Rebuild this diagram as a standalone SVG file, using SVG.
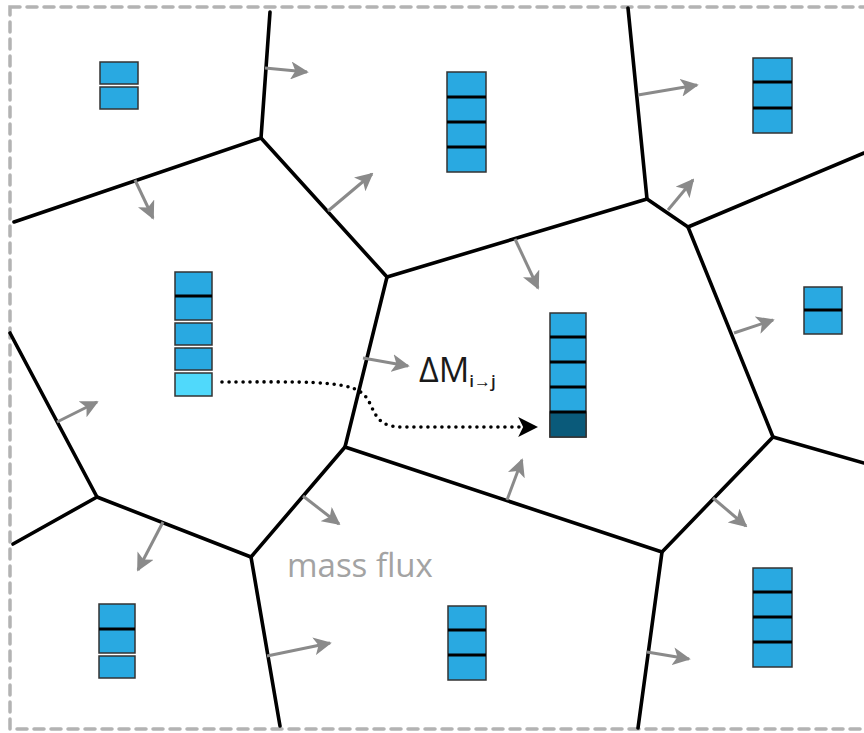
<svg xmlns="http://www.w3.org/2000/svg" width="864" height="733" viewBox="0 0 864 733">
<defs>
<style>
.edge{fill:none;stroke:#000;stroke-width:3.6;stroke-linecap:round;stroke-linejoin:round}
.flux{fill:none;stroke:#8a8a8a;stroke-width:3;marker-end:url(#ga)}
.cell{fill:#29a9e1;stroke:#333;stroke-width:1.5}
.sep{stroke:#000;stroke-width:3}
.lab{font-family:"Open Sans","Noto Sans",sans-serif}
</style>
<marker id="ga" viewBox="0 0 10 10" refX="9" refY="5" markerWidth="6" markerHeight="6" orient="auto" markerUnits="strokeWidth">
<path d="M0,0 L10,5 L0,10 L2.5,5 Z" fill="#8a8a8a"/>
</marker>
<marker id="ba" viewBox="0 0 10 10" refX="9" refY="5" markerWidth="5.5" markerHeight="5.5" orient="auto" markerUnits="strokeWidth">
<path d="M0,0 L10,5 L0,10 L2.5,5 Z" fill="#000"/>
</marker>
</defs>
<rect x="0" y="0" width="864" height="733" fill="#fff"/>
<rect x="10" y="7" width="880" height="722" fill="none" stroke="#b3b3b3" stroke-width="3.5" stroke-dasharray="10 7" stroke-linecap="round"/>

<g id="cell-edges" class="edge">
<polyline points="270,12 261,138 14,222"/>
<line x1="261" y1="138" x2="387" y2="277"/>
<polyline points="387,277 647,199 628,8"/>
<polyline points="647,199 688,227 864,153"/>
<polyline points="688,227 773,437 864,463"/>
<polyline points="773,437 662,552 638,728"/>
<polyline points="662,552 345,447 387,277"/>
<polyline points="345,447 251,557 280,726"/>
<polyline points="251,557 97,497 10,333"/>
<line x1="97" y1="497" x2="13" y2="544"/>
</g>

<g id="connectors">
<line class="flux" x1="265" y1="68" x2="307" y2="72"/>
<line class="flux" x1="135" y1="180" x2="153" y2="218"/>
<line class="flux" x1="328" y1="211" x2="372" y2="174"/>
<line class="flux" x1="638" y1="95" x2="697" y2="85"/>
<line class="flux" x1="668" y1="210" x2="693" y2="180"/>
<line class="flux" x1="515" y1="239" x2="538" y2="288"/>
<line class="flux" x1="734" y1="333" x2="773" y2="320"/>
<line class="flux" x1="57" y1="422" x2="97" y2="402"/>
<line class="flux" x1="363" y1="358" x2="408" y2="366"/>
<line class="flux" x1="507" y1="500" x2="522" y2="460"/>
<line class="flux" x1="713" y1="498" x2="746" y2="526"/>
<line class="flux" x1="163" y1="522" x2="138" y2="570"/>
<line class="flux" x1="303" y1="496" x2="339" y2="524"/>
<line class="flux" x1="267" y1="656" x2="330" y2="643"/>
<line class="flux" x1="647" y1="652" x2="689" y2="659"/>
<path d="M222,382 C300,382 345,380 362,393 C376,404 370,427 402,427 L536,427" fill="none" stroke="#000" stroke-width="3.6" stroke-dasharray="0 7" stroke-linecap="round" marker-end="url(#ba)"/>
</g>

<g id="stack-tl">
<rect class="cell" x="100" y="62" width="38" height="22"/>
<rect class="cell" x="100" y="87" width="38" height="22"/>
</g>
<g id="stack-tm">
<rect class="cell" x="447" y="72" width="39" height="100"/>
<line class="sep" x1="447" y1="97" x2="486" y2="97"/>
<line class="sep" x1="447" y1="122" x2="486" y2="122"/>
<line class="sep" x1="447" y1="147" x2="486" y2="147"/>
</g>
<g id="stack-tr">
<rect class="cell" x="753" y="58" width="39" height="75"/>
<line class="sep" x1="753" y1="82" x2="792" y2="82"/>
<line class="sep" x1="753" y1="108" x2="792" y2="108"/>
</g>
<g id="stack-left">
<rect class="cell" x="175" y="272" width="37" height="48"/>
<line class="sep" x1="175" y1="296" x2="212" y2="296"/>
<rect class="cell" x="175" y="323" width="37" height="22"/>
<rect class="cell" x="175" y="348" width="37" height="22"/>
<rect class="cell" x="175" y="373" width="37" height="23" style="fill:#50d9fb"/>
</g>
<g id="stack-center">
<rect class="cell" x="550" y="313" width="36" height="124"/>
<rect x="550" y="412" width="36" height="25" fill="#0a5a7a" stroke="#333" stroke-width="1.5"/>
<line class="sep" x1="550" y1="337" x2="586" y2="337"/>
<line class="sep" x1="550" y1="362" x2="586" y2="362"/>
<line class="sep" x1="550" y1="387" x2="586" y2="387"/>
<line class="sep" x1="550" y1="412" x2="586" y2="412"/>
</g>
<g id="stack-rm">
<rect class="cell" x="804" y="287" width="38" height="47"/>
<line class="sep" x1="804" y1="310" x2="842" y2="310"/>
</g>
<g id="stack-bl">
<rect class="cell" x="99" y="604" width="36" height="49"/>
<line class="sep" x1="99" y1="629" x2="135" y2="629"/>
<rect class="cell" x="99" y="656" width="36" height="22"/>
</g>
<g id="stack-bm">
<rect class="cell" x="448" y="606" width="38" height="74"/>
<line class="sep" x1="448" y1="630" x2="486" y2="630"/>
<line class="sep" x1="448" y1="655" x2="486" y2="655"/>
</g>
<g id="stack-br">
<rect class="cell" x="753" y="568" width="39" height="99"/>
<line class="sep" x1="753" y1="592" x2="792" y2="592"/>
<line class="sep" x1="753" y1="617" x2="792" y2="617"/>
<line class="sep" x1="753" y1="642" x2="792" y2="642"/>
</g>

<g id="label-dm">
<text class="lab" x="419" y="382" font-size="34" fill="#1a1a1a">ΔM<tspan font-size="17" dy="5" font-weight="600">i→j</tspan></text>
</g>
<g id="label-flux">
<text class="lab" x="287" y="577" font-size="33" fill="#a3a3a3">mass flux</text>
</g>
</svg>
